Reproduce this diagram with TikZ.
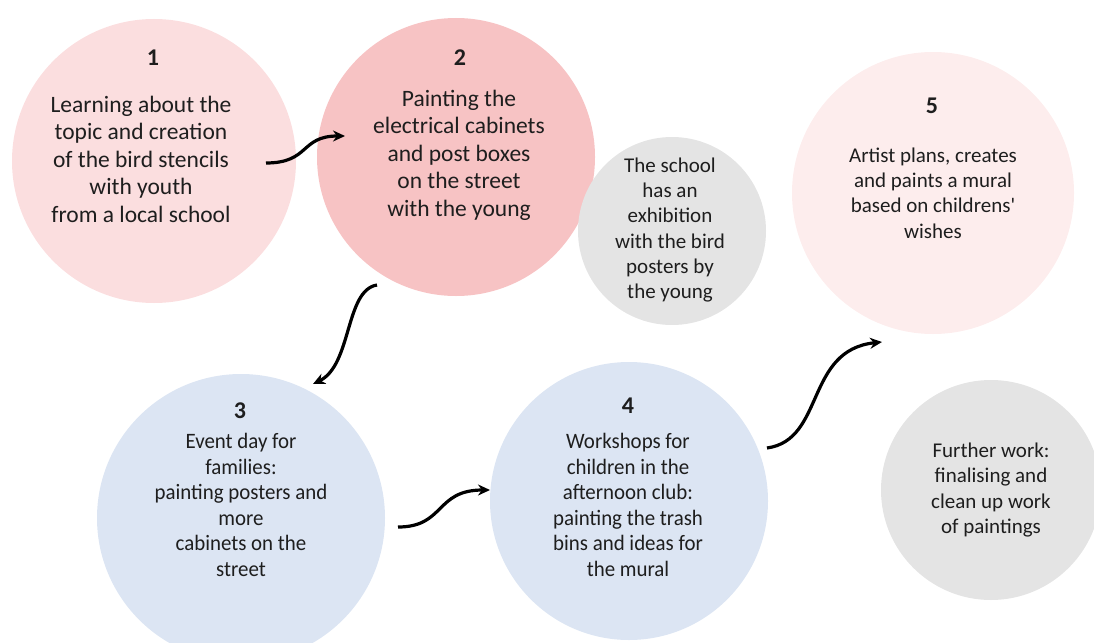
\documentclass[tikz,border=0pt]{standalone}
\usepackage{fontspec}
\setmainfont{Carlito}
\newfontfamily\narrowfont{Carlito}[FakeStretch=0.95]
\usetikzlibrary{arrows.meta, positioning}
\definecolor{pinklight}{RGB}{251,222,223}
\definecolor{pinkmid}{RGB}{247,195,196}
\definecolor{pinkpale}{RGB}{253,237,237}
\definecolor{bluepale}{RGB}{220,229,243}
\definecolor{greypale}{RGB}{228,228,228}
\definecolor{inkgray}{RGB}{30,30,30}

\begin{document}
\begin{tikzpicture}[
        x=1pt, y=-1pt,
        >={Stealth[length=12pt,width=11pt]},
        bubble/.style={circle, inner sep=0pt, minimum size=#1},
        numlabel/.style={font=\fontsize{24}{26}\selectfont\bfseries, text=inkgray},
        bigtext/.style={align=center, text=inkgray, font=\fontsize{23.5}{27.5}\selectfont},
        smalltext/.style={align=center, text=inkgray, font=\fontsize{21}{25.3}\selectfont},
        narrowtext/.style={align=center, text=inkgray, font=\narrowfont\fontsize{22}{25.5}\selectfont},
        flow/.style={->, line width=3.2pt}
    ]

    \useasboundingbox (0,0) rectangle (1094,642);

    % Draw circles
    \node[bubble=284pt, fill=pinklight] (c1) at (154,161) {};
    \node[bubble=278pt, fill=pinkmid] (c2) at (456,157) {};
    \node[bubble=188pt, fill=greypale] (g1) at (672,231) {};
    \node[bubble=282pt, fill=pinkpale] (c5) at (933,193) {};
    \node[bubble=288pt, fill=bluepale] (c3) at (241,518) {};
    \node[bubble=278pt, fill=bluepale] (c4) at (629,501) {};
    \node[bubble=220pt, fill=greypale] (g2) at (991,490) {};

    % Numbers
    \node[numlabel] (n1) at (153,58) {1};
    \node[numlabel] (n2) at (460,58) {2};
    \node[numlabel] (n3) at (240,411) {3};
    \node[numlabel] (n4) at (628,406) {4};
    \node[numlabel] (n5) at (932,106) {5};

    % Texts
    \node[bigtext] (t1) at (141,159) {Learning about the\\ topic and creation\\of the bird stencils\\with youth\\ from a local school};
    \node[bigtext] (t2) at (459,155) {Painting the\\electrical cabinets\\and post boxes\\on the street\\with the young};
    \node[smalltext] (tg1) at (670,230) {The school\\has an\\exhibition\\with the bird\\posters by\\the young};
    \node[smalltext] (t5) at (933,193) {Artist plans, creates\\and paints a mural\\based on childrens\textquotesingle\\wishes};
    \node[narrowtext] (t3) at (241,505) {Event day for\\families:\\painting posters and\\more\\ cabinets on the\\street};
    \node[narrowtext] (t4) at (628,505) {Workshops for\\children in the\\afternoon club:\\painting the trash\\bins and ideas for\\the mural};
    \node[smalltext] (tg2) at (991,490) {Further work:\\finalising and\\clean up work\\of paintings};

    % Draw arrows
    \coordinate (a1s) at (266,163);
    \coordinate (a1e) at (345,136);
    \coordinate (a2s) at (377,285);
    \coordinate (a2e) at (313,384);
    \coordinate (a3s) at (398,527);
    \coordinate (a3e) at (490,490);
    \coordinate (a4s) at (767,448);
    \coordinate (a4e) at (882,342);
    \draw[flow] (a1s) .. controls (310,163) and (300,136) .. (a1e);
    \draw[flow] (a2s) .. controls (345,290) and (352,365) .. (a2e);
    \draw[flow] (a3s) .. controls (445,527) and (435,490) .. (a3e);
    \draw[flow] (a4s) .. controls (825,440) and (805,350) .. (a4e);

\end{tikzpicture}
\end{document}
